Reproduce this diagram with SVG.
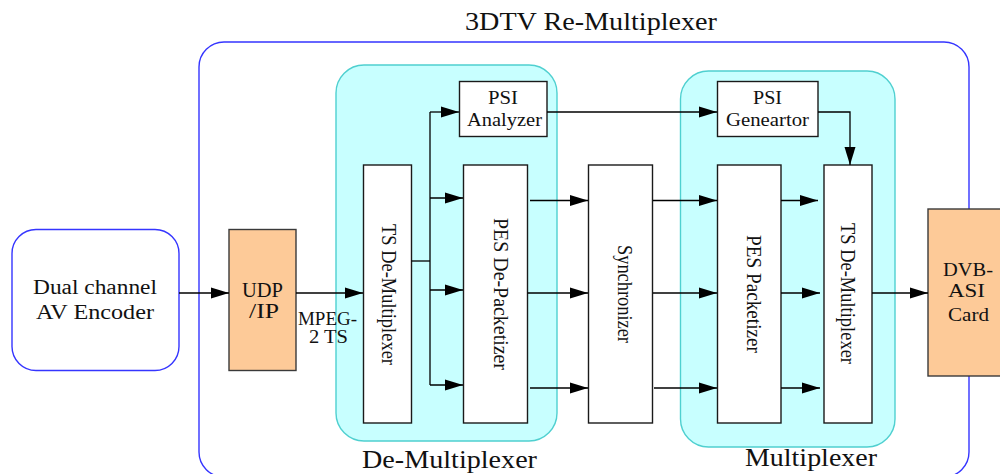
<svg xmlns="http://www.w3.org/2000/svg" width="1000" height="474" viewBox="0 0 1000 474" font-family="'Liberation Serif','Times New Roman',serif">
<style>
text{font-family:"Liberation Serif","Times New Roman",serif;fill:#111}
.t25{font-size:25px}
.t20{font-size:20px}
.t18{font-size:18px}
.tv{font-size:20px}
.blk{fill:#fff;stroke:#1a1a1a;stroke-width:1.4}
.org{fill:#fdca98;stroke:#3a3a3a;stroke-width:1.4}
.cyan{fill:#c8ffff;stroke:#4fd0d0;stroke-width:1.4}
.blue{fill:#fff;stroke:#3535ff;stroke-width:1.4}
.ln{fill:none;stroke:#000;stroke-width:1.3}
.arr{marker-end:url(#ah)}
</style>
<defs>
<marker id="ah" markerUnits="userSpaceOnUse" markerWidth="18" markerHeight="12" refX="18" refY="6" orient="auto">
<path d="M0,0.5 L18,6 L0,11.5 Z" fill="#000"/>
</marker>
</defs>
<rect width="1000" height="474" fill="#fff"/>
<g id="remux">
<rect class="blue" x="199" y="42" width="770" height="435" rx="25"/>
<text class="t25" x="465" y="30" textLength="252" lengthAdjust="spacingAndGlyphs">3DTV Re-Multiplexer</text>
</g>
<g id="encoder">
<rect class="blue" x="12" y="229.5" width="167" height="141" rx="24"/>
<text class="t20" x="33" y="294" textLength="124" lengthAdjust="spacingAndGlyphs">Dual channel</text>
<text class="t20" x="36" y="319" textLength="118" lengthAdjust="spacingAndGlyphs">AV Encoder</text>
</g>
<g id="udpip">
<rect class="org" x="229" y="229.5" width="67" height="141"/>
<text class="t20" x="242" y="297" textLength="41" lengthAdjust="spacingAndGlyphs">UDP</text>
<text class="t20" x="249" y="318" textLength="30" lengthAdjust="spacingAndGlyphs">/IP</text>
</g>
<g id="demux-group">
<rect class="cyan" x="336" y="65" width="221" height="376" rx="28"/>
<text class="t25" x="362" y="468" textLength="175" lengthAdjust="spacingAndGlyphs">De-Multiplexer</text>
</g>
<g id="mux-group">
<rect class="cyan" x="680.5" y="71" width="214.5" height="376" rx="28"/>
<text class="t25" x="745" y="466" textLength="132" lengthAdjust="spacingAndGlyphs">Multiplexer</text>
</g>
<g id="dvbasi">
<rect class="org" x="928" y="209" width="80" height="167"/>
<text class="t18" x="943" y="276" textLength="50" lengthAdjust="spacingAndGlyphs">DVB-</text>
<text class="t18" x="948" y="297" textLength="37" lengthAdjust="spacingAndGlyphs">ASI</text>
<text class="t18" x="948" y="321" textLength="41" lengthAdjust="spacingAndGlyphs">Card</text>
</g>
<g id="psi-analyzer">
<rect class="blk" x="459.5" y="81.5" width="87.5" height="55"/>
<text class="t18" x="488" y="104" textLength="30" lengthAdjust="spacingAndGlyphs">PSI</text>
<text class="t18" x="467" y="126" textLength="75" lengthAdjust="spacingAndGlyphs">Analyzer</text>
</g>
<g id="psi-generator">
<rect class="blk" x="717.5" y="81.5" width="100.5" height="55"/>
<text class="t18" x="753" y="104" textLength="29" lengthAdjust="spacingAndGlyphs">PSI</text>
<text class="t18" x="726" y="126" textLength="83" lengthAdjust="spacingAndGlyphs">Geneartor</text>
</g>
<g id="ts-demux">
<rect class="blk" x="363.5" y="165" width="48" height="258"/>
<text class="tv" transform="translate(382,294.5) rotate(90)" x="-70.5" y="0" textLength="141" lengthAdjust="spacingAndGlyphs">TS De-Multiplexer</text>
</g>
<g id="pes-depacketizer">
<rect class="blk" x="463.5" y="165" width="64" height="258"/>
<text class="tv" transform="translate(494,294) rotate(90)" x="-76" y="0" textLength="152" lengthAdjust="spacingAndGlyphs">PES  De-Packetizer</text>
</g>
<g id="synchronizer">
<rect class="blk" x="588.5" y="165" width="64" height="258"/>
<text class="tv" transform="translate(618,294) rotate(90)" x="-49" y="0" textLength="98" lengthAdjust="spacingAndGlyphs">Synchronizer</text>
</g>
<g id="pes-packetizer">
<rect class="blk" x="717.5" y="165" width="63.5" height="258"/>
<text class="tv" transform="translate(747,294) rotate(90)" x="-59" y="0" textLength="118" lengthAdjust="spacingAndGlyphs">PES  Packetizer</text>
</g>
<g id="ts-mux">
<rect class="blk" x="824" y="165" width="48" height="258"/>
<text class="tv" transform="translate(841,293.5) rotate(90)" x="-70.5" y="0" textLength="141" lengthAdjust="spacingAndGlyphs">TS De-Multiplexer</text>
</g>
<g id="connectors">
<line class="ln arr" x1="179" y1="293" x2="229" y2="293"/>
<line class="ln arr" x1="296" y1="293" x2="363" y2="293"/>
<line class="ln" x1="411.5" y1="261" x2="430" y2="261"/>
<line class="ln" x1="430" y1="112" x2="430" y2="385"/>
<line class="ln arr" x1="430" y1="112" x2="459" y2="112"/>
<line class="ln arr" x1="430" y1="198" x2="463" y2="198"/>
<line class="ln arr" x1="430" y1="290" x2="463" y2="290"/>
<line class="ln arr" x1="430" y1="385" x2="463" y2="385"/>
<line class="ln arr" x1="530" y1="200.5" x2="588" y2="200.5"/>
<line class="ln arr" x1="527.5" y1="293" x2="588" y2="293"/>
<line class="ln arr" x1="530" y1="388" x2="588" y2="388"/>
<line class="ln arr" x1="653" y1="200.5" x2="717" y2="200.5"/>
<line class="ln arr" x1="653" y1="293" x2="717" y2="293"/>
<line class="ln arr" x1="654" y1="388" x2="717" y2="388"/>
<line class="ln arr" x1="781" y1="200.5" x2="818" y2="200.5"/>
<line class="ln arr" x1="781" y1="293" x2="820" y2="293"/>
<line class="ln arr" x1="781" y1="388" x2="820" y2="388"/>
<line class="ln arr" x1="872" y1="293" x2="928" y2="293"/>
<line class="ln arr" x1="547" y1="112" x2="717" y2="112"/>
<polyline class="ln arr" points="818,112 850,112 850,165"/>
</g>
<g id="labels">
<text class="t18" x="298" y="325" textLength="59" lengthAdjust="spacingAndGlyphs">MPEG-</text>
<text class="t18" x="309" y="343" textLength="39" lengthAdjust="spacingAndGlyphs">2 TS</text>
</g>
</svg>
